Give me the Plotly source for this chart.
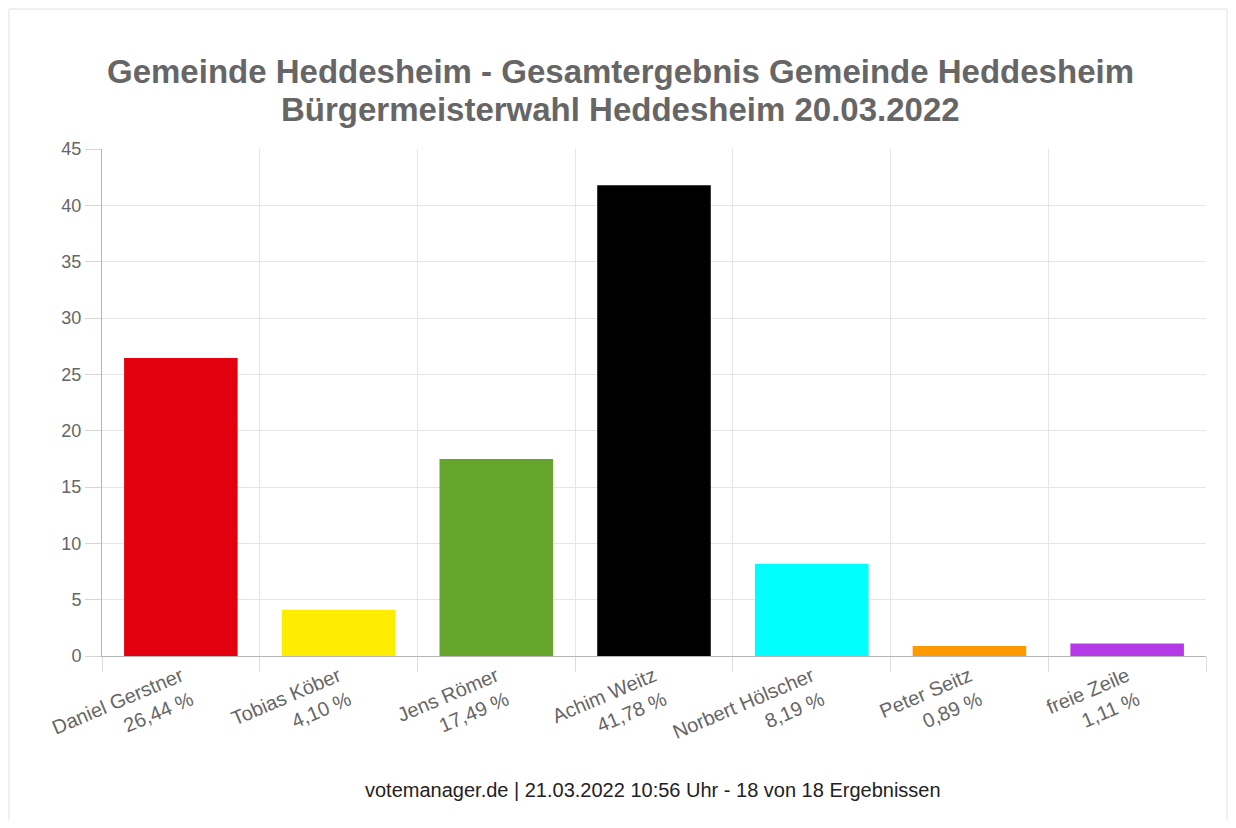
import plotly.graph_objects as go

candidates = ["Daniel Gerstner", "Tobias Köber", "Jens Römer", "Achim Weitz",
              "Norbert Hölscher", "Peter Seitz", "freie Zeile"]
percent = [26.44, 4.10, 17.49, 41.78, 8.19, 0.89, 1.11]
colors = ["#e3000f", "#ffed00", "#65a52b", "#000000", "#00ffff", "#ff9900", "#b43ae8"]
y_ticks = [0, 5, 10, 15, 20, 25, 30, 35, 40, 45]
title_lines = ["Gemeinde Heddesheim - Gesamtergebnis Gemeinde Heddesheim",
               "Bürgermeisterwahl Heddesheim 20.03.2022"]
footer = "votemanager.de | 21.03.2022 10:56 Uhr - 18 von 18 Ergebnissen"

labels = [f"{c}<br>{f'{p:.2f}'.replace('.', ',')} %" for c, p in zip(candidates, percent)]

fig = go.Figure(go.Bar(x=labels, y=percent, marker=dict(color=colors, line=dict(width=0)),
                       width=0.72, hoverinfo="skip"))

# page body has an 8px margin, so figure coords = reference px - 8
OFF = 8
W, H = 1220, 812
L, R, T, B = 94, 22, 141, 164
pw, ph = W - L - R, H - T - B

def px_x(p):
    return (p - OFF - L) / pw

def px_y(p):
    return (H - B - (p - OFF)) / ph

FONT = "Liberation Sans, Arial, sans-serif"

fig.update_layout(
    width=W, height=H,
    margin=dict(l=L, r=R, t=T, b=B),
    paper_bgcolor="white", plot_bgcolor="white",
    font=dict(family=FONT, color="#666666"),
    showlegend=False,
    xaxis=dict(type="category", tickson="boundaries", showgrid=True, gridcolor="#e6e6e6", gridwidth=1,
               ticks="outside", ticklen=15, tickcolor="#dddddd", tickangle=-23,
               tickfont=dict(size=20, color="#666666"),
               showline=True, linecolor="#b5b5b5", linewidth=1,
               range=[-0.5, 6.5]),
    yaxis=dict(range=[0, 45], tickvals=y_ticks, showgrid=True, gridcolor="#e6e6e6", gridwidth=1,
               ticks="outside", ticklen=16, tickcolor="#d5d5d5", tickfont=dict(size=18, color="#666666"),
               showline=True, linecolor="#b5b5b5", linewidth=1, zeroline=False),
    bargap=0.28,
)

fig.add_shape(type="rect", xref="paper", yref="paper",
              x0=px_x(9), x1=px_x(1227), y0=px_y(850), y1=px_y(9),
              line=dict(color="#e2e2e2", width=1), fillcolor="rgba(0,0,0,0)", layer="below")

for txt, yc in zip(title_lines, [71, 109]):
    fig.add_annotation(text=f"<b>{txt}</b>", xref="paper", yref="paper",
                       x=px_x(620), y=px_y(yc), xanchor="center", yanchor="middle",
                       showarrow=False, font=dict(size=33, color="#666666", family=FONT))

fig.add_annotation(text=footer, xref="paper", yref="paper", x=px_x(653), y=px_y(790),
                   xanchor="center", yanchor="middle", showarrow=False,
                   font=dict(size=20, color="#222222", family=FONT))

fig.write_html("out.html")
